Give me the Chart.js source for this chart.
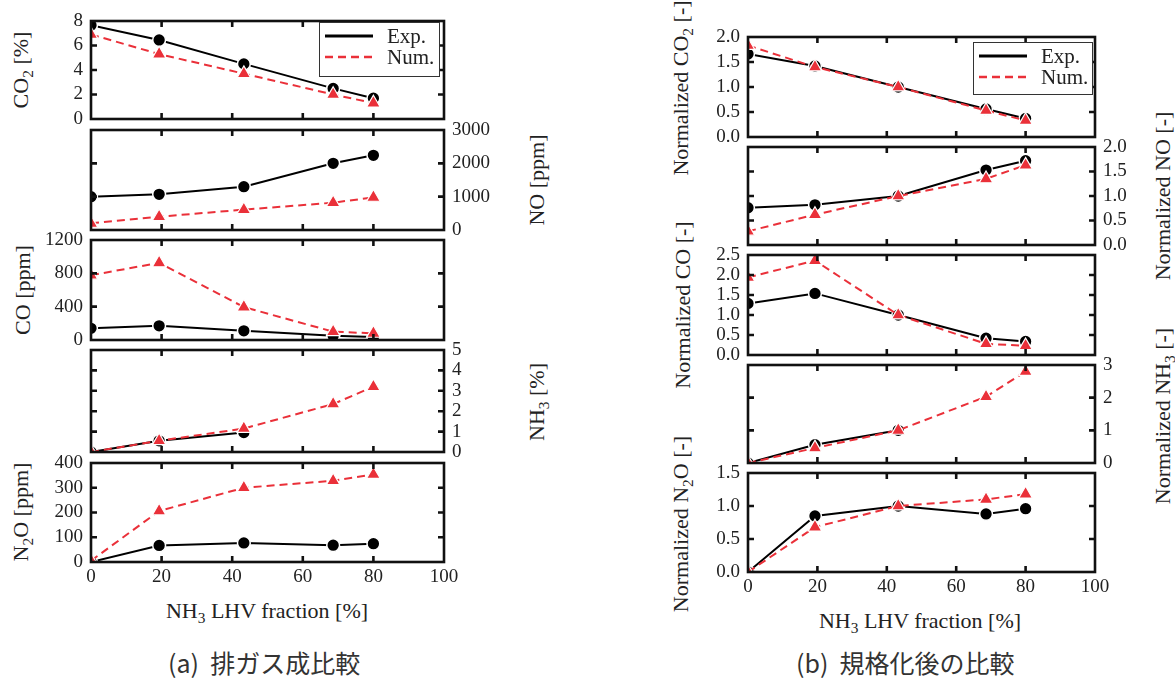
<!DOCTYPE html>
<html>
<head>
<meta charset="utf-8">
<script src="https://cdn.jsdelivr.net/npm/chart.js@4.4.1/dist/chart.umd.min.js"></script>
<style>
  html, body { margin: 0; padding: 0; background: #fff; }
  #page { position: relative; width: 1175px; height: 682px; overflow: hidden; }
  .pane { position: absolute; }
  .ttl, .xt { position: absolute; white-space: nowrap; font-family: "Liberation Serif", "Times New Roman", Tinos, "DejaVu Serif", serif; font-size: 22px; color: #222; line-height: 1; }
  .ttl { transform: translate(-50%, -50%) rotate(-90deg); }
  .xt { transform: translate(-50%, -50%); }
  .cap { position: absolute; white-space: nowrap; font-family: "Noto Sans CJK JP", "Noto Sans", sans-serif; font-size: 25px; color: #333; transform: translateY(-50%); line-height: 1; }
  sub { font-size: 70%; vertical-align: -0.3em; line-height: 0; }
</style>
</head>
<body>
<div id="page">
  <div class="ttl" style="left:21px;top:70px">CO<sub>2</sub> [%]</div>
  <div class="ttl" style="left:537px;top:180px">NO [ppm]</div>
  <div class="ttl" style="left:23px;top:290px">CO [ppm]</div>
  <div class="ttl" style="left:537px;top:402px">NH<sub>3</sub> [%]</div>
  <div class="ttl" style="left:21px;top:512px">N<sub>2</sub>O [ppm]</div>
  <div class="xt" style="left:267px;top:611px">NH<sub>3</sub> LHV fraction [%]</div>
  <div class="cap" lang="ja" style="left:168px;top:662px">(a)&nbsp;&nbsp;排ガス成比較</div>

  <div class="ttl" style="left:681px;top:88px">Normalized CO<sub>2</sub> [-]</div>
  <div class="ttl" style="left:1163px;top:196px">Normalized NO [-]</div>
  <div class="ttl" style="left:683px;top:305px">Normalized CO [-]</div>
  <div class="ttl" style="left:1163px;top:416px">Normalized NH<sub>3</sub> [-]</div>
  <div class="ttl" style="left:681px;top:524px">Normalized N<sub>2</sub>O [-]</div>
  <div class="xt" style="left:920px;top:621px">NH<sub>3</sub> LHV fraction [%]</div>
  <div class="cap" lang="ja" style="left:796px;top:662px">(b)&nbsp;&nbsp;規格化後の比較</div>
</div>
<script>
'use strict';
// NH3 LHV fraction [%] (axe x commun)
const fraction = [0, 19.3, 43.3, 68.6, 80];
// (a) valeurs absolues
const co2Exp = [7.65, 6.45, 4.5, 2.5, 1.7];
const co2Num = [6.9, 5.3, 3.7, 2.0, 1.3];
const noExp = [1000, 1070, 1300, 2000, 2240];
const noNum = [200, 400, 610, 820, 980];
const coExp = [140, 170, 110, 50, 35];
const coNum = [777, 926, 395, 100, 80];
const nh3Exp = [0, 0.55, 0.95, null, null];
const nh3Num = [0, 0.55, 1.15, 2.35, 3.2];
const n2oExp = [0, 67, 77, 68, 74];
const n2oNum = [5, 206, 300, 328, 354];
// (b) valeurs normalisées
const nCo2Exp = [1.66, 1.42, 1.0, 0.56, 0.37];
const nCo2Num = [1.83, 1.40, 1.0, 0.53, 0.33];
const nNoExp = [0.76, 0.82, 1.0, 1.53, 1.72];
const nNoNum = [0.28, 0.62, 1.0, 1.35, 1.63];
const nCoExp = [1.29, 1.54, 1.0, 0.42, 0.34];
const nCoNum = [1.94, 2.36, 1.0, 0.28, 0.23];
const nNh3Exp = [0, 0.56, 1.0, null, null];
const nNh3Num = [0, 0.46, 1.0, 2.03, 2.8];
const nN2oExp = [0, 0.85, 1.0, 0.88, 0.96];
const nN2oNum = [0, 0.68, 1.0, 1.1, 1.18];
const xTicks = [0, 20, 40, 60, 80, 100];
const legendLabels = ['Exp.', 'Num.'];

const RED = '#ea3039', INK = '#111', TXT = '#222', TL = 6;
const SERIF = '"Liberation Serif", "Times New Roman", Tinos, "DejaVu Serif", serif';
Chart.defaults.font.family = SERIF;
Chart.defaults.font.size = 19;
Chart.defaults.color = TXT;
const TICKFONT = { family: SERIF, size: 19 };

const pts = arr => arr.map((v, i) => ({ x: fraction[i], y: v }));
const f1 = v => Number(v).toFixed(1);

// cadre épais + ticks intérieurs sur les 4 côtés + légende encadrée
const framePlugin = {
  id: 'frame',
  afterDraw(chart, args, opts) {
    const { ctx, chartArea: a, scales: { x, y } } = chart;
    ctx.save();
    ctx.strokeStyle = INK; ctx.lineWidth = 2.6; ctx.lineCap = 'butt';
    ctx.strokeRect(a.left, a.top, a.right - a.left, a.bottom - a.top);
    ctx.beginPath();
    x.ticks.forEach(t => {
      if (t.value <= x.min || t.value >= x.max) return;
      const p = x.getPixelForValue(t.value);
      ctx.moveTo(p, a.top); ctx.lineTo(p, a.top + TL);
      ctx.moveTo(p, a.bottom); ctx.lineTo(p, a.bottom - TL);
    });
    y.ticks.forEach(t => {
      if (t.value <= y.min || t.value >= y.max) return;
      const p = y.getPixelForValue(t.value);
      ctx.moveTo(a.left, p); ctx.lineTo(a.left + TL, p);
      ctx.moveTo(a.right, p); ctx.lineTo(a.right - TL, p);
    });
    ctx.stroke();
    const lg = opts.legend;
    if (lg) {
      const bx = a.right - lg.dx - lg.w, by = a.top + lg.dy;
      ctx.fillStyle = '#fff'; ctx.fillRect(bx, by, lg.w, lg.h);
      ctx.strokeStyle = '#333'; ctx.lineWidth = 1; ctx.strokeRect(bx + 0.5, by + 0.5, lg.w, lg.h);
      chart.data.datasets.forEach((d, i) => {
        const ly = by + 14 + i * 21;
        ctx.beginPath();
        ctx.strokeStyle = d.borderColor; ctx.lineWidth = i === 0 ? 3 : 2.4;
        ctx.setLineDash(d.borderDash || []);
        ctx.moveTo(bx + 6, ly); ctx.lineTo(bx + 54, ly); ctx.stroke();
        ctx.setLineDash([]);
        ctx.fillStyle = TXT; ctx.font = '21px ' + SERIF;
        ctx.textBaseline = 'middle'; ctx.textAlign = 'left';
        ctx.fillText(d.label, bx + 68, ly + 1);
      });
    }
    ctx.restore();
  }
};

function panel(o) {
  const padX = 100, padTop = 20, xH = o.xLabels ? 26 : 0, padBot = o.xLabels ? 40 : 20;
  const [l, t, r, b] = o.area;
  const W = r - l + 2 * padX, H = b - t + padTop + padBot;
  const box = document.createElement('div');
  box.className = 'pane';
  box.style.cssText = `left:${l - padX}px;top:${t - padTop}px;width:${W}px;height:${H}px`;
  const cv = document.createElement('canvas');
  cv.width = W; cv.height = H; cv.style.width = W + 'px'; cv.style.height = H + 'px';
  box.appendChild(cv);
  document.getElementById('page').appendChild(box);
  new Chart(cv, {
    type: 'line',
    data: { datasets: [
      { label: legendLabels[0], data: pts(o.exp), borderColor: '#000', borderWidth: 2, pointStyle: 'circle', pointRadius: 6.4,
        pointBackgroundColor: '#000', pointBorderColor: '#fff', pointBorderWidth: 1.5, order: 2, spanGaps: false },
      { label: legendLabels[1], data: pts(o.num), borderColor: RED, borderWidth: 2, borderDash: [8, 5], pointStyle: 'triangle', pointRadius: 7.8,
        pointBackgroundColor: RED, pointBorderColor: '#fff', pointBorderWidth: 1.2, order: 1 },
    ] },
    options: {
      responsive: false, animation: false, devicePixelRatio: 1,
      layout: { padding: { left: o.yPos === 'right' ? padX : 0, right: o.yPos === 'left' ? padX : 0, top: padTop, bottom: padBot - xH } },
      plugins: { legend: { display: false }, tooltip: { enabled: false }, frame: { legend: o.legend || null } },
      scales: {
        x: { type: 'linear', min: 0, max: 100,
          afterBuildTicks: s => { s.ticks = xTicks.map(v => ({ value: v })); },
          ticks: { display: !!o.xLabels, padding: 4, maxRotation: 0, autoSkip: false, font: TICKFONT, color: TXT },
          grid: { display: false, drawTicks: false }, border: { display: false },
          afterFit: s => { s.height = xH; } },
        y: { type: 'linear', position: o.yPos, min: o.y[0], max: o.y[1],
          ticks: { stepSize: o.y[2], padding: 8, autoSkip: false, font: TICKFONT, color: TXT, callback: o.fmt || (v => v) },
          grid: { display: false, drawTicks: false }, border: { display: false },
          afterFit: s => { s.width = padX; } },
      },
    },
    plugins: [framePlugin],
  });
}

// (a) colonne gauche
panel({ area: [91, 21, 444, 119], y: [0, 8, 2], yPos: 'left', exp: co2Exp, num: co2Num, legend: { dx: 5, dy: 1, w: 120, h: 54 } });
panel({ area: [91, 130, 444, 230], y: [0, 3000, 1000], yPos: 'right', exp: noExp, num: noNum });
panel({ area: [91, 240, 444, 340], y: [0, 1200, 400], yPos: 'left', exp: coExp, num: coNum });
panel({ area: [91, 350, 444, 452], y: [0, 5, 1], yPos: 'right', exp: nh3Exp, num: nh3Num });
panel({ area: [91, 463, 444, 562], y: [0, 400, 100], yPos: 'left', exp: n2oExp, num: n2oNum, xLabels: true });
// (b) colonne droite
panel({ area: [748, 37, 1095, 137], y: [0, 2, 0.5], yPos: 'left', exp: nCo2Exp, num: nCo2Num, fmt: f1, legend: { dx: 3, dy: 5, w: 119, h: 52 } });
panel({ area: [748, 147, 1095, 245], y: [0, 2, 0.5], yPos: 'right', exp: nNoExp, num: nNoNum, fmt: f1 });
panel({ area: [748, 255, 1095, 355], y: [0, 2.5, 0.5], yPos: 'left', exp: nCoExp, num: nCoNum, fmt: f1 });
panel({ area: [748, 365, 1095, 463], y: [0, 3, 1], yPos: 'right', exp: nNh3Exp, num: nNh3Num });
panel({ area: [748, 473, 1095, 572], y: [0, 1.5, 0.5], yPos: 'left', exp: nN2oExp, num: nN2oNum, fmt: f1, xLabels: true });
</script>
</body>
</html>
